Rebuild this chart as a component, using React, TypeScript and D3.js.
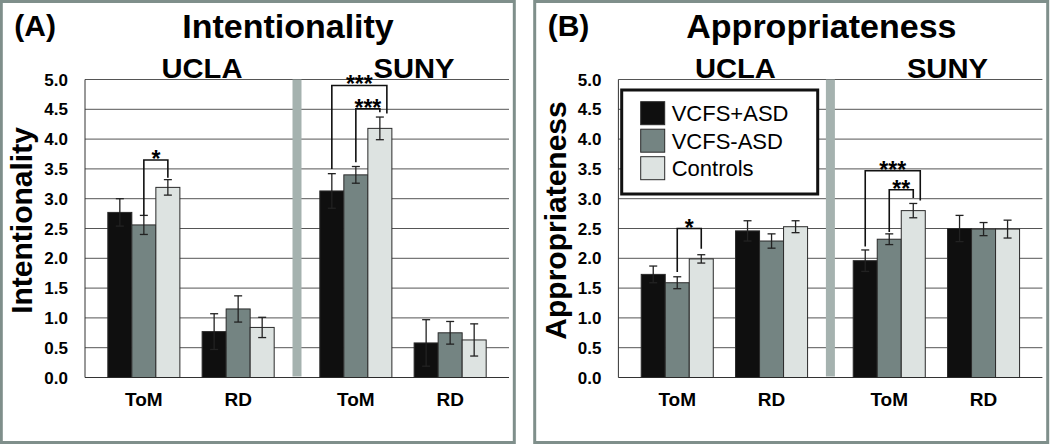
import * as d3 from 'd3'

// categories
const sites = ['UCLA', 'SUNY']
const tasks = ['ToM', 'RD']
const groups = ['VCFS+ASD', 'VCFS-ASD', 'Controls']
const groupColors = ['#0f0f0f', '#748482', '#dde3e1']
const yTicks = [0, 0.5, 1, 1.5, 2, 2.5, 3, 3.5, 4, 4.5, 5]

// Intentionality: rows = UCLA ToM, UCLA RD, SUNY ToM, SUNY RD ; cols = groups
const intentMeans = [
  [2.77, 2.56, 3.19],
  [0.77, 1.15, 0.84],
  [3.13, 3.4, 4.18],
  [0.58, 0.75, 0.63],
]
const intentErr = [
  [0.23, 0.16, 0.13],
  [0.3, 0.22, 0.17],
  [0.29, 0.14, 0.19],
  [0.39, 0.19, 0.27],
]

// Appropriateness
const apprMeans = [
  [1.73, 1.59, 1.99],
  [2.46, 2.29, 2.53],
  [1.96, 2.32, 2.8],
  [2.5, 2.49, 2.49],
]
const apprErr = [
  [0.14, 0.1, 0.07],
  [0.17, 0.12, 0.1],
  [0.18, 0.09, 0.12],
  [0.22, 0.11, 0.15],
]

// significance brackets (all on ToM)
const intentSig = [
  { site: 'UCLA', from: 1, to: 2, y: 3.65, yFrom: 2.72, yTo: 3.35, label: '*' },
  { site: 'SUNY', from: 0, to: 2, y: 4.9, yFrom: 3.5, yTo: 4.43, label: '***' },
  { site: 'SUNY', from: 1, to: 2, y: 4.51, yFrom: 3.61, yTo: 4.45, label: '***' },
]
const apprSig = [
  { site: 'UCLA', from: 1, to: 2, y: 2.5, yFrom: 1.77, yTo: 2.16, label: '*' },
  { site: 'SUNY', from: 0, to: 2, y: 3.47, yFrom: 2.2, yTo: 2.97, label: '***' },
  { site: 'SUNY', from: 1, to: 2, y: 3.15, yFrom: 2.44, yTo: 3.01, label: '**' },
]

const font = "'Liberation Sans', Arial, sans-serif"
const frameColor = '#7f8f8b'
const sepColor = '#a5b2af'

const W = 513
const H = 441
const plotL = 83.7
const plotR = 507.7
const plotT = 78
const plotB = 376

type Sig = { site: string; from: number; to: number; y: number; yFrom: number; yTo: number; label: string }

const Panel = ({ x0, letter, title, yTitle, means, errs, sigs, legend }: {
  x0: number; letter: string; title: string; yTitle: string
  means: number[][]; errs: number[][]; sigs: Sig[]; legend?: boolean
}) => {
  const y = d3.scaleLinear().domain([0, 5]).range([plotB, plotT])
  const siteX = d3.scaleBand().domain(sites).range([plotL, plotR])
  const taskX = d3.scaleBand().domain(tasks).range([0, siteX.bandwidth()]).paddingInner(0.236).paddingOuter(0.242)
  const grpX = d3.scaleBand().domain(groups).range([0, taskX.bandwidth()])
  const barX = (s: string, t: string, g: number) => (siteX(s) ?? 0) + (taskX(t) ?? 0) + (grpX(groups[g]) ?? 0)
  const mid = (plotL + plotR) / 2
  const bw = grpX.bandwidth()

  return (
    <g transform={`translate(${x0},1.5)`} fontFamily={font}>
      <rect x={0} y={0} width={W} height={H} fill="#fff" stroke={frameColor} strokeWidth={3} />
      <text x={13} y={34} fontSize={30} fontWeight="bold">{letter}</text>
      <text x={mid - 9} y={36} fontSize={34} fontWeight="bold" textAnchor="middle">{title}</text>
      <text transform={`translate(31,219) rotate(-90)`} fontSize={30} fontWeight="bold" textAnchor="middle">{yTitle}</text>
      {sites.map((s) => (
        <text key={s} x={(siteX(s) ?? 0) + siteX.bandwidth() / 2 + 11} y={76} fontSize={27} fontWeight="bold"
          textAnchor="middle" textLength={81} lengthAdjust="spacingAndGlyphs">{s}</text>
      ))}
      {yTicks.map((t) => (
        <g key={t}>
          <line x1={plotL} x2={plotR} y1={y(t)} y2={y(t)} stroke={t === 0 ? '#333' : '#555'} strokeWidth={1} />
          <text x={plotL - 17} y={y(t) + 6} fontSize={17} fontWeight="bold" textAnchor="end">{t.toFixed(1)}</text>
        </g>
      ))}
      <line x1={plotL} x2={plotL} y1={plotT} y2={plotB} stroke="#333" strokeWidth={1} />
      <rect x={mid - 4.5} y={plotT} width={9} height={plotB - plotT - 1} fill={sepColor} />
      {sites.map((s, si) => tasks.map((t, ti) => {
        const row = si * 2 + ti
        return (
          <g key={s + t}>
            {groups.map((g, gi) => {
              const v = means[row][gi]
              const e = errs[row][gi]
              const bx = barX(s, t, gi)
              const cx = bx + bw / 2
              return (
                <g key={g}>
                  <rect x={bx} y={y(v)} width={bw} height={plotB - y(v)} fill={groupColors[gi]} stroke="#2a2a2a" strokeWidth={1} />
                  <line x1={cx} x2={cx} y1={y(v + e)} y2={y(v - e)} stroke="#222" strokeWidth={1.3} />
                  <line x1={cx - 4} x2={cx + 4} y1={y(v + e)} y2={y(v + e)} stroke="#222" strokeWidth={1.3} />
                  <line x1={cx - 4} x2={cx + 4} y1={y(v - e)} y2={y(v - e)} stroke="#222" strokeWidth={1.3} />
                </g>
              )
            })}
            <text x={(siteX(s) ?? 0) + (taskX(t) ?? 0) + taskX.bandwidth() / 2} y={404} fontSize={19}
              fontWeight="bold" textAnchor="middle">{t}</text>
          </g>
        )
      }))}
      {sigs.map((b, i) => {
        const xa = barX(b.site, 'ToM', b.from) + bw / 2
        const xb = barX(b.site, 'ToM', b.to) + bw / 2 + (b.to - b.from > 1 ? 7 : 0)
        return (
          <g key={i}>
            <path d={`M${xa},${y(b.yFrom)}V${y(b.y)}H${xb}V${y(b.yTo)}`} fill="none" stroke="#111" strokeWidth={1.6} />
            <text x={(xa + xb) / 2} y={y(b.y) + 7} fontSize={23} fontWeight="bold" textAnchor="middle">{b.label}</text>
          </g>
        )
      })}
      {legend && (
        <g transform="translate(87,88.5)">
          <rect x={0} y={0} width={196} height={104} fill="#fff" stroke="#111" strokeWidth={3} />
          {groups.map((g, gi) => (
            <g key={g} transform={`translate(19,${11.7 + gi * 27.5})`}>
              <rect x={0} y={0} width={24} height={23} fill={groupColors[gi]} stroke="#2a2a2a" strokeWidth={1} />
              <text x={31} y={19.5} fontSize={22}>{g}</text>
            </g>
          ))}
        </g>
      )}
    </g>
  )
}

export default function App() {
  return (
    <svg width={1050} height={444} style={{ position: 'absolute', left: 0, top: 0, background: '#fff' }}>
      <Panel x0={1.3} letter="(A)" title="Intentionality" yTitle="Intentionality"
        means={intentMeans} errs={intentErr} sigs={intentSig} />
      <Panel x0={534.7} letter="(B)" title="Appropriateness" yTitle="Appropriateness"
        means={apprMeans} errs={apprErr} sigs={apprSig} legend />
    </svg>
  )
}
